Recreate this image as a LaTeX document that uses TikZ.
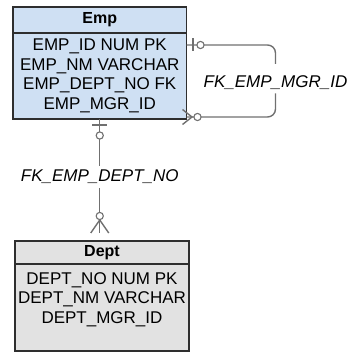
\documentclass[tikz,border=0pt]{standalone}
\usepackage{fontspec}
\setmainfont{Liberation Sans}
\usetikzlibrary{positioning,calc}

\definecolor{empblue}{HTML}{CFE0F3}
\definecolor{deptgray}{HTML}{E2E2E2}
\definecolor{relgray}{HTML}{707070}
\definecolor{edgegray}{HTML}{2E2E2E}

\begin{document}
\begin{tikzpicture}[
    x=1pt, y=-1pt,
    head/.style={rectangle, draw=edgegray, line width=1.2pt, inner sep=0pt, outer sep=0pt, align=center, font=\fontsize{16}{19}\selectfont\bfseries},
    body/.style={rectangle, draw=edgegray, line width=1.2pt, inner sep=0pt, outer sep=0pt, align=center, minimum height=86pt, font=\fontsize{17}{19.5}\selectfont},
    fklabel/.style={inner sep=3.5pt, anchor=base, font=\fontsize{17}{19.5}\selectfont\itshape},
    rel/.style={draw=relgray, line width=1.4pt},
    ring/.style={draw=relgray, fill=white, line width=1.1pt}
]
    \useasboundingbox (0,0) rectangle (349,352);

    % Emp table
    \node[head, fill=empblue, minimum width=173.5pt, minimum height=26pt, anchor=north west] (emphead) at (13,7) {Emp};
    \node[body, fill=empblue, minimum width=173.5pt, below=0pt of emphead] (empbody) {EMP\_ID NUM PK\\EMP\_NM VARCHAR\\EMP\_DEPT\_NO FK\\EMP\_MGR\_ID};

    % Dept table
    \node[head, fill=deptgray, minimum width=174pt, minimum height=23pt, anchor=north west] (depthead) at (15,241) {Dept};
    \node[body, fill=deptgray, minimum width=174pt, minimum height=87pt, below=0pt of depthead] (deptbody) {DEPT\_NO NUM PK\\DEPT\_NM VARCHAR\\DEPT\_MGR\_ID\\\mbox{}};

    % Relationship labels
    \node[fklabel] (deptfk) at (99.75,182) {FK\_EMP\_DEPT\_NO};
    \node[fklabel] (mgrfk) at (275.5,87.5) {FK\_EMP\_MGR\_ID};

    % End points
    \coordinate (mgrout) at ([yshift=-12pt]empbody.north east);
    \coordinate (mgrin) at ([yshift=2pt]empbody.south east);
    \coordinate (deptout) at (empbody.south);
    \coordinate (deptin) at ($(empbody.south |- depthead.north)+(0,-8)$);

    % FK_EMP_MGR_ID (self reference)
    \draw[rel, rounded corners=8pt] (mgrout) -| ([yshift=8pt]mgrfk.north);
    \draw[rel, rounded corners=8pt] (mgrfk.south) |- (mgrin);
    \draw[rel] ([xshift=6.5pt]mgrout) ++(0,-6.5) -- ++(0,13);
    \draw[ring] ([xshift=14pt]mgrout) circle (3.6pt);
    \draw[rel] ([xshift=-4pt,yshift=7.5pt]mgrin) -- ([xshift=5.5pt]mgrin) -- ([xshift=-4pt,yshift=-7.5pt]mgrin);
    \draw[ring] ([xshift=11pt]mgrin) circle (3.6pt);

    % FK_EMP_DEPT_NO
    \draw[rel] (deptout) -- (deptfk.north);
    \draw[rel] (deptfk.south) -- (deptin);
    \draw[rel] ([yshift=-6pt]deptout) ++(-7.5,0) -- ++(15,0);
    \draw[ring] ([yshift=-16.5pt]deptout) circle (3.6pt);
    \draw[rel] ([xshift=-9pt]deptin) -- ([yshift=13pt]deptin) -- ([xshift=9pt]deptin);
    \draw[ring] ([yshift=17pt]deptin) circle (3.6pt);

\end{tikzpicture}
\end{document}
